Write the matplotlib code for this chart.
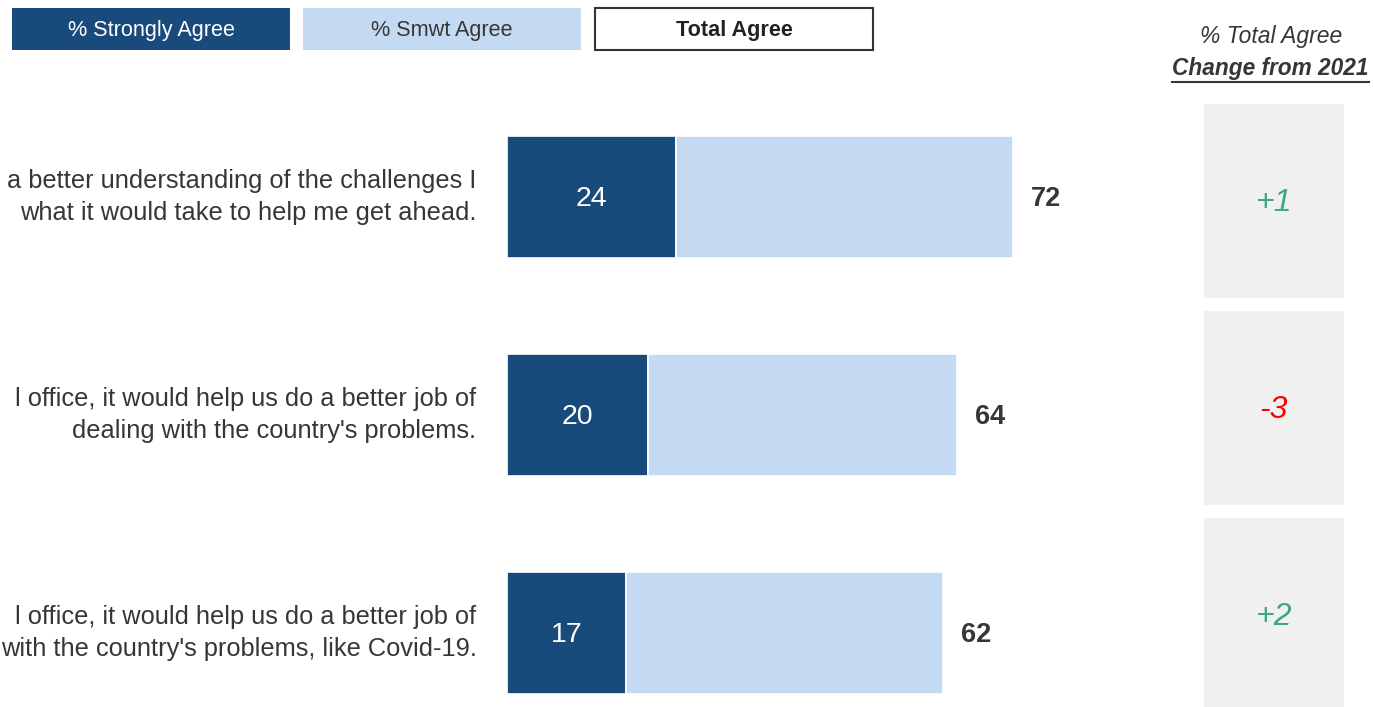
import matplotlib
matplotlib.use("Agg")
import matplotlib.pyplot as plt
from matplotlib.patches import Rectangle

# data
statements = [
    "a better understanding of the challenges I\nwhat it would take to help me get ahead.",
    "l office, it would help us do a better job of\ndealing with the country's problems.",
    "l office, it would help us do a better job of\nwith the country's problems, like Covid-19.",
]
strongly_agree = [24, 20, 17]
total_agree = [72, 64, 62]
somewhat_agree = [t - s for t, s in zip(total_agree, strongly_agree)]
change_2021 = [1, -3, 2]

legend_labels = ["% Strongly Agree", "% Smwt Agree", "Total Agree"]

dark_blue = "#194a7c"
light_blue = "#c4daf3"
text_col = "#363636"
green = "#3aa886"
red = "#ff0000"
box_grey = "#f0f0f0"

plt.rcParams['font.family'] = ['Liberation Sans', 'DejaVu Sans']

W, H = 1373, 707
fig = plt.figure(figsize=(W / 100, H / 100), dpi=100)


def fig_rect(x0, y0, x1, y1):
    # pixel box (top-left origin) -> figure fraction [l, b, w, h]
    return [x0 / W, 1 - y1 / H, (x1 - x0) / W, (y1 - y0) / H]


# main bars
ax = fig.add_axes(fig_rect(507, 88, 1100, 707))
px_per_unit = 506 / 72
ax.set_xlim(0, (1100 - 507) / px_per_unit)
ax.set_ylim(-0.5 + 619 / 218, -0.5)
ypos = list(range(len(statements)))
ax.barh(ypos, strongly_agree, height=0.56, color=dark_blue, edgecolor="white", linewidth=1.2)
ax.barh(ypos, somewhat_agree, left=strongly_agree, height=0.56, color=light_blue,
        edgecolor="white", linewidth=1.2)
ax.axis("off")

for i in ypos:
    ax.text(strongly_agree[i] / 2, i + 0.01, str(strongly_agree[i]), color="white",
            ha="center", va="center", fontsize=20.5)
    ax.annotate(str(total_agree[i]), xy=(total_agree[i], i + 0.01), xytext=(13, 0),
                textcoords="offset points", ha="left", va="center",
                fontsize=19.5, fontweight="bold", color=text_col)
    ax.annotate(statements[i], xy=(0, i), xycoords=ax.get_yaxis_transform(),
                xytext=(-22, 0), textcoords="offset points", ha="right", va="center",
                multialignment="right", fontsize=18.3, linespacing=1.45, color=text_col)

# change column
axc = fig.add_axes(fig_rect(1204, 104, 1344, 707))
axc.set_xlim(0, 1)
axc.set_ylim(-0.469 + 603 / 207, -0.469)
axc.barh(ypos, [1] * len(ypos), height=194 / 207, color=box_grey)
axc.axis("off")
for i, c in enumerate(change_2021):
    axc.text(0.5, i + 0.01, f"{c:+d}", ha="center", va="center", fontsize=23,
             fontstyle="italic", color=green if c > 0 else red)

fig.text(1271 / W, 1 - 37 / H, "% Total Agree", ha="center", va="center",
         fontsize=16.5, fontstyle="italic", color=text_col)
fig.text(1270 / W, 1 - 69 / H, "Change from 2021", ha="center", va="center",
         fontsize=16.3, fontstyle="italic", fontweight="bold", color=text_col)
fig.add_artist(plt.Line2D([1172 / W, 1369 / W], [1 - 82 / H, 1 - 82 / H],
                          color=text_col, linewidth=1.5))

# legend boxes
legend_boxes = [(12, 290, dark_blue, "none", "white", "normal"),
                (303, 581, light_blue, "none", text_col, "normal"),
                (595, 873, "white", "#333333", "#222222", "bold")]
for lab, (x0, x1, fc, ec, tc, fw) in zip(legend_labels, legend_boxes):
    l, b, w, h = fig_rect(x0, 8, x1, 50)
    fig.add_artist(Rectangle((l, b), w, h, transform=fig.transFigure,
                             facecolor=fc, edgecolor=ec, linewidth=1.5))
    fig.text(l + w / 2, b + h / 2 - 0.002, lab, ha="center", va="center", fontsize=15.6,
             color=tc, fontweight=fw)

fig.savefig("out.png", dpi=100)
